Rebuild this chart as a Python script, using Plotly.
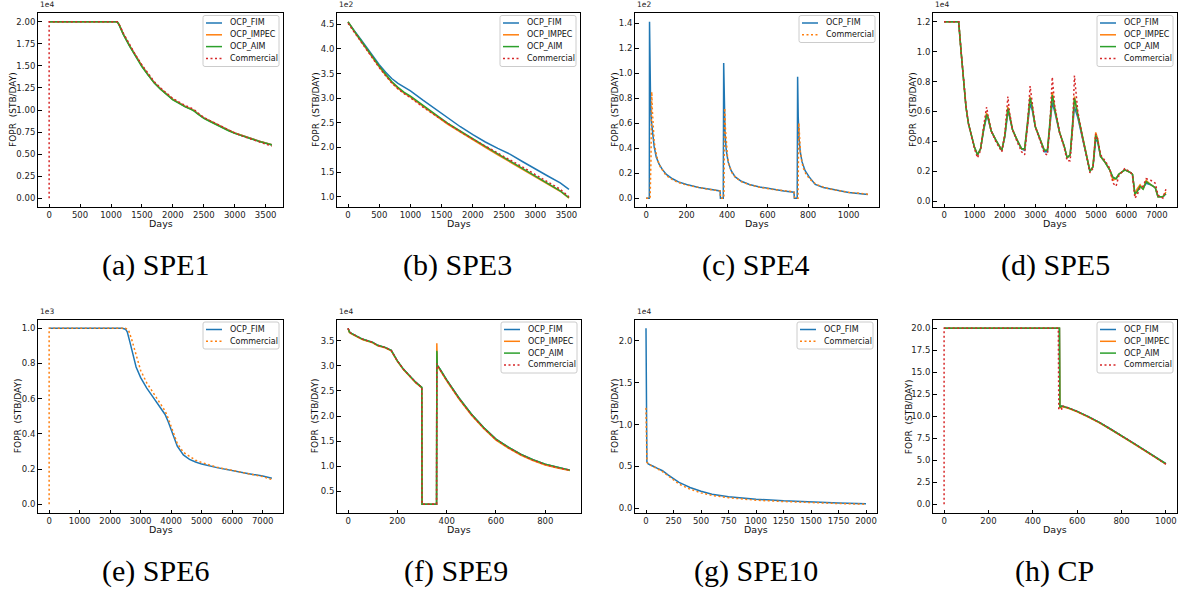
import plotly.graph_objects as go

W, H = 1179, 593
C_FIM, C_IMPEC, C_AIM, C_RED = "#1f77b4", "#ff7f0e", "#2ca02c", "#d62728"

# ---------------- data (FOPR values in the units shown with the axis exponent) -------------
# (a) SPE1, x1e4
spe1_days = [0, 1100, 1130, 1200, 1300, 1400, 1500, 1600, 1700, 1800, 1900, 2000, 2100, 2200,
             2300, 2350, 2400, 2500, 2600, 2700, 2800, 2900, 3000, 3100, 3200, 3300, 3400, 3500, 3600]
spe1_fim = [2.0, 2.0, 1.97, 1.86, 1.73, 1.61, 1.50, 1.40, 1.31, 1.24, 1.18, 1.12, 1.08, 1.04,
            1.01, 0.99, 0.96, 0.91, 0.875, 0.84, 0.80, 0.77, 0.74, 0.715, 0.69, 0.665, 0.645, 0.625, 0.605]
spe1_impec = [2.0, 2.0, 1.97, 1.86, 1.73, 1.61, 1.50, 1.40, 1.31, 1.24, 1.18, 1.12, 1.08, 1.04,
              1.01, 0.99, 0.96, 0.91, 0.875, 0.84, 0.80, 0.77, 0.74, 0.715, 0.69, 0.665, 0.645, 0.625, 0.605]
spe1_aim = [2.0, 2.0, 1.965, 1.855, 1.725, 1.605, 1.49, 1.395, 1.305, 1.235, 1.175, 1.115, 1.075, 1.035,
            1.005, 0.985, 0.955, 0.905, 0.87, 0.835, 0.795, 0.765, 0.735, 0.71, 0.688, 0.663, 0.643, 0.623, 0.603]
spe1_com_days = [0, 0, 1100, 1130, 1200, 1300, 1400, 1500, 1600, 1700, 1800, 1900, 2000, 2100, 2200,
                 2300, 2350, 2400, 2500, 2600, 2700, 2800, 2900, 3000, 3100, 3200, 3300, 3400, 3500, 3600]
spe1_com = [0.0, 2.0, 2.0, 1.975, 1.87, 1.74, 1.62, 1.51, 1.41, 1.32, 1.25, 1.19, 1.13, 1.09, 1.05,
            1.02, 1.0, 0.97, 0.915, 0.88, 0.845, 0.805, 0.77, 0.74, 0.71, 0.685, 0.66, 0.635, 0.615, 0.59]

# (b) SPE3, x1e2
spe3_days = [0, 50, 100, 200, 300, 400, 500, 600, 700, 800, 900, 1000, 1200, 1400, 1600, 1800,
             2000, 2200, 2400, 2600, 2800, 3000, 3200, 3400, 3540]
spe3_fim = [4.55, 4.45, 4.37, 4.20, 4.03, 3.84, 3.68, 3.53, 3.40, 3.30, 3.22, 3.15, 2.96, 2.78,
            2.59, 2.42, 2.26, 2.11, 1.98, 1.86, 1.71, 1.56, 1.42, 1.28, 1.15]
spe3_impec = [4.55, 4.44, 4.35, 4.17, 3.99, 3.80, 3.63, 3.47, 3.32, 3.20, 3.10, 3.02, 2.83, 2.65,
              2.47, 2.31, 2.15, 2.00, 1.85, 1.70, 1.55, 1.40, 1.25, 1.11, 0.97]
spe3_aim = [4.55, 4.45, 4.36, 4.18, 4.00, 3.82, 3.65, 3.49, 3.34, 3.22, 3.12, 3.04, 2.85, 2.67,
            2.49, 2.33, 2.17, 2.02, 1.87, 1.72, 1.57, 1.41, 1.26, 1.12, 0.98]
spe3_com = [4.52, 4.43, 4.34, 4.15, 3.97, 3.79, 3.62, 3.46, 3.31, 3.19, 3.09, 3.01, 2.82, 2.65,
            2.48, 2.32, 2.17, 2.03, 1.89, 1.75, 1.60, 1.45, 1.30, 1.15, 1.00]

# (c) SPE4, x1e2
spe4_days_fim = [0, 16, 17, 19, 22, 26, 32, 40, 50, 65, 80, 100, 130, 160, 200, 260, 300, 365,
                 367, 381, 383, 386, 390, 396, 405, 420, 440, 470, 510, 560, 620, 680, 730,
                 732, 746, 748, 751, 755, 761, 770, 785, 805, 835, 875, 930, 1000, 1095]
spe4_fim = [0.0, 0.0, 1.41, 1.0, 0.78, 0.62, 0.50, 0.41, 0.33, 0.27, 0.23, 0.19, 0.155, 0.13, 0.11,
            0.085, 0.075, 0.058, 0.0, 0.0, 1.08, 0.70, 0.50, 0.38, 0.29, 0.22, 0.17, 0.135, 0.11,
            0.09, 0.072, 0.058, 0.048, 0.0, 0.0, 0.97, 0.65, 0.48, 0.37, 0.29, 0.22, 0.17, 0.11,
            0.085, 0.065, 0.045, 0.03]
spe4_days_com = [0, 20, 24, 28, 31, 35, 40, 48, 58, 70, 85, 100, 130, 160, 200, 260, 300, 365,
                 368, 384, 388, 392, 396, 402, 410, 425, 445, 475, 515, 560, 620, 680, 730,
                 733, 750, 754, 758, 762, 768, 776, 790, 810, 840, 880, 930, 1000, 1095]
spe4_com = [0.0, 0.0, 0.30, 0.85, 0.70, 0.55, 0.45, 0.37, 0.30, 0.25, 0.21, 0.18, 0.148, 0.125,
            0.105, 0.083, 0.073, 0.058, 0.0, 0.0, 0.72, 0.55, 0.42, 0.33, 0.26, 0.20, 0.16, 0.128,
            0.105, 0.088, 0.072, 0.06, 0.05, 0.0, 0.0, 0.60, 0.47, 0.37, 0.30, 0.24, 0.19, 0.15,
            0.11, 0.085, 0.066, 0.047, 0.032]

# (d) SPE5, x1e4
spe5_days = [0, 480, 560, 640, 720, 800, 900, 1000, 1100, 1200, 1300, 1400, 1450, 1550, 1700, 1850,
             1900, 2000, 2100, 2150, 2250, 2400, 2550, 2650, 2750, 2830, 2900, 3000, 3150, 3300,
             3400, 3480, 3560, 3640, 3800, 3950, 4050, 4150, 4230, 4290, 4400, 4550, 4700, 4800,
             4900, 4990, 5050, 5150, 5300, 5450, 5560, 5660, 5750, 5950, 6150, 6200, 6280, 6350,
             6450, 6550, 6650, 6800, 6950, 7040, 7200, 7300]
spe5_fim = [1.2, 1.2, 1.0, 0.80, 0.63, 0.52, 0.43, 0.36, 0.31, 0.35, 0.47, 0.57, 0.55, 0.47, 0.41, 0.35,
            0.34, 0.43, 0.60, 0.57, 0.48, 0.41, 0.35, 0.34, 0.50, 0.65, 0.61, 0.50, 0.42, 0.33,
            0.33, 0.48, 0.66, 0.60, 0.46, 0.37, 0.29, 0.31, 0.48, 0.63, 0.56, 0.43, 0.30, 0.20,
            0.23, 0.41, 0.40, 0.30, 0.26, 0.21, 0.15, 0.15, 0.18, 0.21, 0.19, 0.18, 0.05, 0.07,
            0.10, 0.09, 0.12, 0.11, 0.09, 0.03, 0.03, 0.05]
spe5_impec = [1.2, 1.2, 1.0, 0.80, 0.63, 0.52, 0.43, 0.36, 0.31, 0.35, 0.48, 0.59, 0.56, 0.47, 0.41, 0.35,
              0.34, 0.44, 0.63, 0.58, 0.48, 0.41, 0.35, 0.35, 0.52, 0.70, 0.63, 0.50, 0.42, 0.34,
              0.34, 0.50, 0.73, 0.62, 0.46, 0.37, 0.29, 0.31, 0.50, 0.70, 0.58, 0.43, 0.30, 0.20,
              0.23, 0.46, 0.42, 0.30, 0.26, 0.21, 0.14, 0.15, 0.18, 0.21, 0.19, 0.18, 0.04, 0.08,
              0.11, 0.08, 0.14, 0.11, 0.09, 0.03, 0.03, 0.06]
spe5_aim = [1.2, 1.2, 1.0, 0.80, 0.63, 0.52, 0.43, 0.36, 0.31, 0.35, 0.48, 0.58, 0.56, 0.47, 0.41, 0.35,
            0.34, 0.44, 0.62, 0.58, 0.48, 0.41, 0.35, 0.35, 0.52, 0.69, 0.63, 0.50, 0.42, 0.34,
            0.34, 0.50, 0.71, 0.62, 0.46, 0.37, 0.29, 0.31, 0.50, 0.69, 0.58, 0.43, 0.30, 0.20,
            0.23, 0.44, 0.41, 0.30, 0.26, 0.21, 0.16, 0.15, 0.18, 0.21, 0.19, 0.18, 0.05, 0.06,
            0.10, 0.08, 0.13, 0.11, 0.09, 0.03, 0.03, 0.05]
spe5_com = [1.2, 1.2, 1.0, 0.81, 0.64, 0.52, 0.43, 0.35, 0.29, 0.34, 0.50, 0.63, 0.57, 0.47, 0.40, 0.34,
            0.33, 0.45, 0.70, 0.60, 0.48, 0.40, 0.33, 0.31, 0.52, 0.77, 0.65, 0.50, 0.41, 0.32,
            0.31, 0.50, 0.83, 0.64, 0.46, 0.36, 0.27, 0.27, 0.50, 0.84, 0.60, 0.43, 0.29, 0.19,
            0.22, 0.45, 0.42, 0.31, 0.27, 0.22, 0.12, 0.10, 0.17, 0.22, 0.19, 0.17, 0.02, 0.04,
            0.09, 0.10, 0.15, 0.14, 0.12, 0.04, 0.02, 0.08]

# (e) SPE6, x1e3
spe6_days_fim = [0, 2400, 2500, 2560, 2650, 2750, 2850, 3000, 3200, 3400, 3600, 3800, 3900, 4000,
                 4100, 4200, 4400, 4600, 4800, 5000, 5500, 6000, 6500, 7000, 7300]
spe6_fim = [1.0, 1.0, 0.995, 0.98, 0.92, 0.85, 0.78, 0.72, 0.66, 0.61, 0.56, 0.51, 0.47, 0.42,
            0.37, 0.33, 0.28, 0.255, 0.24, 0.228, 0.208, 0.19, 0.175, 0.16, 0.148]
spe6_days_com = [0, 0, 2500, 2600, 2700, 2800, 2900, 3000, 3200, 3400, 3600, 3800, 3900, 4000,
                 4100, 4200, 4400, 4600, 4800, 5000, 5500, 6000, 6500, 7000, 7300]
spe6_com = [0.0, 1.0, 1.0, 0.99, 0.94, 0.88, 0.82, 0.76, 0.69, 0.635, 0.585, 0.53, 0.49, 0.44,
            0.39, 0.345, 0.295, 0.27, 0.25, 0.237, 0.21, 0.192, 0.175, 0.157, 0.14]

# (f) SPE9, x1e4
spe9_days = [0, 5, 10, 20, 40, 60, 80, 100, 120, 150, 175, 200, 225, 250, 275, 299, 300, 359, 360,
             362, 370, 400, 450, 500, 550, 600, 650, 700, 750, 800, 850, 900]
spe9_fim = [3.75, 3.68, 3.66, 3.63, 3.58, 3.53, 3.50, 3.47, 3.41, 3.37, 3.31, 3.10, 2.93, 2.79, 2.67,
            2.57, 0.24, 0.24, 3.28, 3.01, 2.96, 2.72, 2.36, 2.04, 1.77, 1.54, 1.38, 1.24, 1.13, 1.04, 0.98, 0.92]
spe9_impec = [3.74, 3.67, 3.65, 3.62, 3.57, 3.52, 3.49, 3.46, 3.40, 3.36, 3.30, 3.09, 2.92, 2.78, 2.66,
              2.56, 0.24, 0.24, 3.45, 3.00, 2.94, 2.70, 2.34, 2.02, 1.75, 1.52, 1.36, 1.22, 1.11, 1.02, 0.96, 0.91]
spe9_aim = [3.75, 3.68, 3.66, 3.63, 3.58, 3.53, 3.50, 3.47, 3.41, 3.37, 3.31, 3.10, 2.93, 2.79, 2.67,
            2.57, 0.24, 0.24, 3.30, 3.01, 2.96, 2.72, 2.36, 2.04, 1.77, 1.54, 1.38, 1.24, 1.13, 1.04, 0.98, 0.92]
spe9_com = [3.75, 3.68, 3.66, 3.63, 3.58, 3.53, 3.50, 3.47, 3.41, 3.37, 3.31, 3.10, 2.93, 2.79, 2.67,
            2.57, 0.24, 0.24, 3.05, 3.01, 2.95, 2.71, 2.35, 2.03, 1.76, 1.53, 1.37, 1.23, 1.12, 1.03, 0.97, 0.92]

# (g) SPE10, x1e4
spe10_days = [0, 3, 8, 20, 40, 70, 100, 150, 200, 250, 300, 350, 400, 500, 600, 750, 1000, 1250,
              1500, 1750, 2000]
spe10_fim = [2.15, 0.62, 0.56, 0.53, 0.52, 0.50, 0.48, 0.45, 0.40, 0.35, 0.31, 0.28, 0.25, 0.205,
             0.17, 0.14, 0.11, 0.09, 0.075, 0.065, 0.055]
spe10_com = [1.2, 0.60, 0.55, 0.53, 0.515, 0.495, 0.475, 0.44, 0.39, 0.335, 0.29, 0.26, 0.23, 0.185,
             0.155, 0.127, 0.098, 0.082, 0.068, 0.058, 0.05]

# (h) CP, no exponent
cp_days = [0, 520, 522, 530, 560, 600, 650, 700, 750, 800, 850, 900, 950, 1000]
cp_fim = [20.0, 20.0, 11.0, 11.15, 10.95, 10.55, 9.95, 9.3, 8.55, 7.8, 7.0, 6.2, 5.4, 4.6]
cp_impec = [20.0, 20.0, 10.9, 11.1, 10.9, 10.5, 9.9, 9.25, 8.5, 7.75, 6.95, 6.15, 5.35, 4.55]
cp_aim = [20.0, 20.0, 11.0, 11.15, 10.95, 10.55, 9.95, 9.3, 8.55, 7.8, 7.0, 6.2, 5.4, 4.6]
cp_days_com = [0, 0, 515, 517, 530, 531, 560, 600, 650, 700, 750, 800, 850, 900, 950, 1000]
cp_com = [0.0, 20.0, 20.0, 10.8, 10.8, 11.2, 10.95, 10.55, 9.95, 9.3, 8.55, 7.8, 7.0, 6.2, 5.4, 4.55]

# ---------------- panel definitions ----------------
DOT = "2px,2.5px"
S4 = lambda xf, f, xi, i, xa, a, xc, c: [
    ("OCP_FIM", xf, f, C_FIM, "solid"), ("OCP_IMPEC", xi, i, C_IMPEC, "solid"),
    ("OCP_AIM", xa, a, C_AIM, "solid"), ("Commercial", xc, c, C_RED, DOT)]
S2 = lambda xf, f, xc, c: [("OCP_FIM", xf, f, C_FIM, "solid"), ("Commercial", xc, c, C_IMPEC, DOT)]

panels = [
    dict(frame=(38, 13, 283, 207), cap="(a) SPE1", capx=156, exp="1e4", fmt=".2f", ytx=13,
         xt=list(range(0, 3501, 500)), yt=[0, 0.25, 0.5, 0.75, 1.0, 1.25, 1.5, 1.75, 2.0],
         series=S4(spe1_days, spe1_fim, spe1_days, spe1_impec, spe1_days, spe1_aim, spe1_com_days, spe1_com)),
    dict(frame=(337, 13, 580, 207), cap="(b) SPE3", capx=457, exp="1e2", fmt=".1f", ytx=316,
         xt=list(range(0, 3501, 500)), yt=[1.0, 1.5, 2.0, 2.5, 3.0, 3.5, 4.0, 4.5],
         series=S4(spe3_days, spe3_fim, spe3_days, spe3_impec, spe3_days, spe3_aim, spe3_days, spe3_com)),
    dict(frame=(635, 13, 879, 207), cap="(c) SPE4", capx=756, exp="1e2", fmt=".1f", ytx=615,
         xt=list(range(0, 1001, 200)), yt=[0, 0.2, 0.4, 0.6, 0.8, 1.0, 1.2, 1.4],
         series=S2(spe4_days_fim, spe4_fim, spe4_days_com, spe4_com)),
    dict(frame=(933, 13, 1177, 207), cap="(d) SPE5", capx=1055, exp="1e4", fmt=".1f", ytx=913,
         xt=list(range(0, 7001, 1000)), yt=[0, 0.2, 0.4, 0.6, 0.8, 1.0, 1.2],
         series=S4(spe5_days, spe5_fim, spe5_days, spe5_impec, spe5_days, spe5_aim, spe5_days, spe5_com)),
    dict(frame=(38, 319.5, 283, 513), cap="(e) SPE6", capx=156, exp="1e3", fmt=".1f", ytx=18,
         xt=list(range(0, 7001, 1000)), yt=[0, 0.2, 0.4, 0.6, 0.8, 1.0],
         series=S2(spe6_days_fim, spe6_fim, spe6_days_com, spe6_com)),
    dict(frame=(337, 319.5, 581, 513), cap="(f) SPE9", capx=456, exp="1e4", fmt=".1f", ytx=315,
         xt=list(range(0, 801, 200)), yt=[0.5, 1.0, 1.5, 2.0, 2.5, 3.0, 3.5],
         series=S4(spe9_days, spe9_fim, spe9_days, spe9_impec, spe9_days, spe9_aim, spe9_days, spe9_com)),
    dict(frame=(635, 319.5, 877, 513), cap="(g) SPE10", capx=756, exp="1e4", fmt=".1f", ytx=615,
         xt=list(range(0, 2001, 250)), yt=[0, 0.5, 1.0, 1.5, 2.0],
         series=S2(spe10_days, spe10_fim, spe10_days, spe10_com)),
    dict(frame=(933, 319.5, 1177, 513), cap="(h) CP", capx=1054, exp="", fmt=".1f", ytx=909,
         xt=list(range(0, 1001, 200)), yt=[0, 2.5, 5, 7.5, 10, 12.5, 15, 17.5, 20],
         series=S4(cp_days, cp_fim, cp_days, cp_impec, cp_days, cp_aim, cp_days_com, cp_com)),
]

def px(x):
    return x / W

def py(y):
    return 1 - y / H

FONT = "DejaVu Sans"
fig = go.Figure()
shapes, annotations = [], []
layout = {}

for k, p in enumerate(panels, start=1):
    x0, y0, x1, y1 = p["frame"]
    xs = "" if k == 1 else str(k)
    allx = [v for s in p["series"] for v in s[1]]
    ally = [v for s in p["series"] for v in s[2]]
    dx = (max(allx) - min(allx)) * 0.05
    dy = (max(ally) - min(ally)) * 0.05
    for name, xv, yv, col, dash in p["series"]:
        fig.add_trace(go.Scatter(x=xv, y=yv, mode="lines", name=name, showlegend=False,
                                 line=dict(color=col, width=1.5, dash=dash),
                                 xaxis="x" + xs, yaxis="y" + xs))
    ax_common = dict(showline=True, linecolor="black", linewidth=1, mirror=True, ticks="inside",
                     ticklen=3.5, tickwidth=1, tickcolor="black", showgrid=False, zeroline=False,
                     tickfont=dict(family=FONT, size=8.5, color="#222"))
    layout["xaxis" + xs] = dict(ax_common, domain=[px(x0), px(x1)], anchor="y" + xs,
                                range=[min(allx) - dx, max(allx) + dx], tickvals=p["xt"])
    layout["yaxis" + xs] = dict(ax_common, domain=[py(y1), py(y0)], anchor="x" + xs,
                                range=[min(ally) - dy, max(ally) + dy], tickvals=p["yt"],
                                tickformat=p["fmt"])
    # axis titles
    annotations.append(dict(text="Days", x=px((x0 + x1) / 2), y=py(y1 + 16), xref="paper", yref="paper",
                            showarrow=False, font=dict(family=FONT, size=9.5, color="#111"),
                            xanchor="center", yanchor="middle"))
    annotations.append(dict(text="FOPR  (STB/DAY)", x=px(p["ytx"]), y=py((y0 + y1) / 2), xref="paper",
                            yref="paper", showarrow=False, textangle=-90,
                            font=dict(family=FONT, size=9, color="#111"), xanchor="center", yanchor="middle"))
    if p["exp"]:
        annotations.append(dict(text=p["exp"], x=px(x0), y=py(y0 - 1.5), xref="paper", yref="paper",
                                showarrow=False, font=dict(family=FONT, size=7.5, color="#222"),
                                xanchor="left", yanchor="bottom"))
    # caption
    annotations.append(dict(text=p["cap"], x=px(p["capx"]), y=py(y1 + 58), xref="paper", yref="paper",
                            showarrow=False, font=dict(family="Liberation Serif", size=30, color="black"),
                            xanchor="center", yanchor="middle"))
    # legend box (matplotlib-style)
    n = len(p["series"])
    bw, bh = 76, (51 if n == 4 else 27)
    bx1, by0 = x1 - 4, y0 + 2.5
    bx0, by1 = bx1 - bw, by0 + bh
    r = 2
    X0, X1 = px(bx0), px(bx1)
    Y0, Y1 = py(by1), py(by0)
    rx, ry = r / W, r / H
    path = (f"M {X0+rx},{Y0} L {X1-rx},{Y0} Q {X1},{Y0} {X1},{Y0+ry} L {X1},{Y1-ry} "
            f"Q {X1},{Y1} {X1-rx},{Y1} L {X0+rx},{Y1} Q {X0},{Y1} {X0},{Y1-ry} "
            f"L {X0},{Y0+ry} Q {X0},{Y0} {X0+rx},{Y0} Z")
    shapes.append(dict(type="path", path=path, xref="paper", yref="paper",
                       fillcolor="rgba(255,255,255,0.8)", line=dict(color="#cccccc", width=1)))
    for j, (name, xv, yv, col, dash) in enumerate(p["series"]):
        ey = by0 + 7.5 + j * 11.8
        shapes.append(dict(type="line", xref="paper", yref="paper", x0=px(bx0 + 3), x1=px(bx0 + 19),
                           y0=py(ey), y1=py(ey), line=dict(color=col, width=1.5, dash=dash)))
        annotations.append(dict(text=name, x=px(bx0 + 25), y=py(ey), xref="paper", yref="paper",
                                showarrow=False, font=dict(family=FONT, size=8, color="#111"),
                                xanchor="left", yanchor="middle"))

fig.update_layout(width=W, height=H, margin=dict(l=0, r=0, t=0, b=0), autosize=False,
                  paper_bgcolor="white", plot_bgcolor="white", showlegend=False, hovermode=False,
                  shapes=shapes, annotations=annotations, **layout)
fig.write_html("out.html", config={"displayModeBar": False, "staticPlot": True},
               post_script="document.body.style.margin='0';document.body.style.overflow='hidden';")
